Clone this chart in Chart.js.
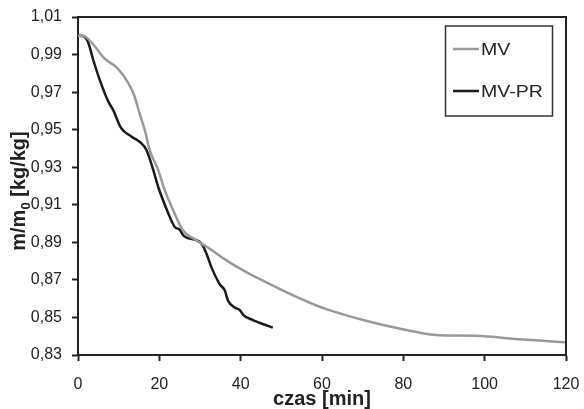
<!DOCTYPE html>
<html>
<head>
<meta charset="utf-8">
<script src="https://cdn.jsdelivr.net/npm/chart.js@4/dist/chart.umd.min.js"></script>
<style>
  html, body { margin: 0; padding: 0; background: #fff; }
  #wrap { width: 584px; height: 409px; }
</style>
</head>
<body>
<div id="wrap"><canvas id="c" width="584" height="409"></canvas></div>
<script>
// ---- data ----
const mvTime   = [0, 1.6, 3.7, 6.5, 9.8, 12.3, 13.9, 15.1, 16.4, 17.6, 19.7, 21.3, 23.4, 25.8, 29.1, 32.4, 36.5, 41.4, 46.3, 50.4, 59.4, 61.8, 70.8, 79.0, 88.0, 97.8, 109.3, 120];
const mvValues = [1.000, 0.9997, 0.9955, 0.9880, 0.9825, 0.9750, 0.9678, 0.9589, 0.9500, 0.9393, 0.9286, 0.9179, 0.9071, 0.8964, 0.8911, 0.8866, 0.8804, 0.8741, 0.8687, 0.8643, 0.8557, 0.8539, 0.8482, 0.8441, 0.8407, 0.8402, 0.8382, 0.8368];

const prTime   = [0, 1.2, 2.5, 3.7, 5.3, 7.4, 8.6, 10.6, 13.1, 15.5, 16.8, 18.5, 19.7, 20.9, 22.2, 23.8, 25.0, 25.9, 26.7, 28.7, 30.4, 31.6, 32.8, 34.8, 36.1, 36.9, 38.5, 39.8, 40.6, 43.0, 47.9];
const prValues = [1.000, 0.9999, 0.9964, 0.9875, 0.9768, 0.9652, 0.9607, 0.9509, 0.9464, 0.9429, 0.9393, 0.9286, 0.9196, 0.9125, 0.9054, 0.8982, 0.8968, 0.8937, 0.8925, 0.8914, 0.8893, 0.8839, 0.8768, 0.8679, 0.8643, 0.8589, 0.8553, 0.8539, 0.8514, 0.8486, 0.8446];

const seriesNames = ['MV', 'MV-PR'];
const xTitle = 'czas [min]';
const yTitleMain = 'm/m';
const yTitleSub = '0';
const yTitleRest = ' [kg/kg]';

const xMin = 0, xMax = 120, xStep = 20;
const yMin = 0.83, yMax = 1.01, yStep = 0.02;

// ---- styles ----
const INK = '#222222';
const GRAY = '#999999';
const BLACK = '#1a1a1a';

function toPts(xs, ys) { return xs.map((x, i) => ({ x: x, y: ys[i] })); }

const framePlugin = {
  id: 'frame',
  afterDraw(chart) {
    const ctx = chart.ctx, a = chart.chartArea;
    ctx.save();
    ctx.strokeStyle = INK;
    ctx.lineWidth = 2;
    ctx.beginPath();
    ctx.moveTo(a.left - 1, a.top);
    ctx.lineTo(a.right, a.top);
    ctx.lineTo(a.right, a.bottom + 1);
    ctx.stroke();
    ctx.restore();
  }
};

const yTitlePlugin = {
  id: 'yTitle',
  afterDraw(chart) {
    const ctx = chart.ctx;
    ctx.save();
    ctx.fillStyle = INK;
    const big = 'bold 20px "Liberation Sans", Arial, sans-serif';
    const small = 'bold 13px "Liberation Sans", Arial, sans-serif';
    ctx.font = big;
    const w1 = ctx.measureText(yTitleMain).width;
    const w3 = ctx.measureText(yTitleRest).width;
    ctx.font = small;
    const w2 = ctx.measureText(yTitleSub).width;
    const total = w1 + w2 + w3;
    ctx.translate(25, 191);
    ctx.rotate(-Math.PI / 2);
    ctx.textBaseline = 'alphabetic';
    ctx.textAlign = 'left';
    let x = -total / 2;
    ctx.font = big;
    ctx.fillText(yTitleMain, x, 0);
    x += w1;
    ctx.font = small;
    ctx.fillText(yTitleSub, x, 5);
    x += w2;
    ctx.font = big;
    ctx.fillText(yTitleRest, x, 0);
    ctx.restore();
  }
};

const legendPlugin = {
  id: 'boxLegend',
  afterDraw(chart) {
    const ctx = chart.ctx;
    ctx.save();
    ctx.strokeStyle = '#333';
    ctx.lineWidth = 1.5;
    ctx.strokeRect(445.5, 26, 107, 90);
    const rows = [49, 91];
    chart.data.datasets.forEach((ds, i) => {
      const y = rows[i];
      ctx.strokeStyle = ds.borderColor;
      ctx.lineWidth = 2.5;
      ctx.beginPath();
      ctx.moveTo(453, y);
      ctx.lineTo(479, y);
      ctx.stroke();
      ctx.save();
      ctx.translate(481, y + 1.5);
      ctx.scale(1.15, 1);
      ctx.fillStyle = INK;
      ctx.font = '17px "Liberation Sans", Arial, sans-serif';
      ctx.textBaseline = 'middle';
      ctx.textAlign = 'left';
      ctx.fillText(ds.label, 0, 0);
      ctx.restore();
    });
    ctx.restore();
  }
};

new Chart(document.getElementById('c'), {
  type: 'line',
  data: {
    datasets: [
      { label: seriesNames[0], data: toPts(mvTime, mvValues), borderColor: GRAY, borderWidth: 2.5, pointRadius: 0, fill: false, cubicInterpolationMode: 'monotone' },
      { label: seriesNames[1], data: toPts(prTime, prValues), borderColor: BLACK, borderWidth: 2.5, pointRadius: 0, fill: false, cubicInterpolationMode: 'monotone' }
    ]
  },
  options: {
    responsive: false,
    animation: false,
    events: [],
    layout: { padding: { top: 17, right: 18, left: 0, bottom: 0 } },
    plugins: { legend: { display: false }, tooltip: { enabled: false } },
    scales: {
      x: {
        type: 'linear', min: xMin, max: xMax,
        afterFit(s) { s.height = 54; s.paddingLeft = 0; s.paddingRight = 0; },
        ticks: { stepSize: xStep, color: INK, padding: 14, maxRotation: 0,
                 font: { size: 16, family: '"Liberation Sans", Arial, sans-serif' } },
        grid: { drawOnChartArea: false, drawTicks: true, tickLength: 6, tickColor: INK, tickWidth: 2 },
        border: { display: true, color: INK, width: 2 },
        title: { display: true, text: xTitle, color: INK, padding: { top: 0, bottom: -2 },
                 font: { size: 20, weight: 'bold', family: '"Liberation Sans", Arial, sans-serif' } }
      },
      y: {
        type: 'linear', min: yMin, max: yMax,
        afterFit(s) { s.width = 78; s.paddingTop = 0; s.paddingBottom = 0; },
        ticks: { stepSize: yStep, color: INK, padding: 10,
                 font: { size: 16, family: '"Liberation Sans", Arial, sans-serif' },
                 callback: v => Number(v).toFixed(2).replace('.', ',') },
        grid: { drawOnChartArea: false, drawTicks: true, tickLength: 6, tickColor: INK, tickWidth: 2 },
        border: { display: true, color: INK, width: 2 }
      }
    }
  },
  plugins: [framePlugin, yTitlePlugin, legendPlugin]
});
</script>
</body>
</html>
